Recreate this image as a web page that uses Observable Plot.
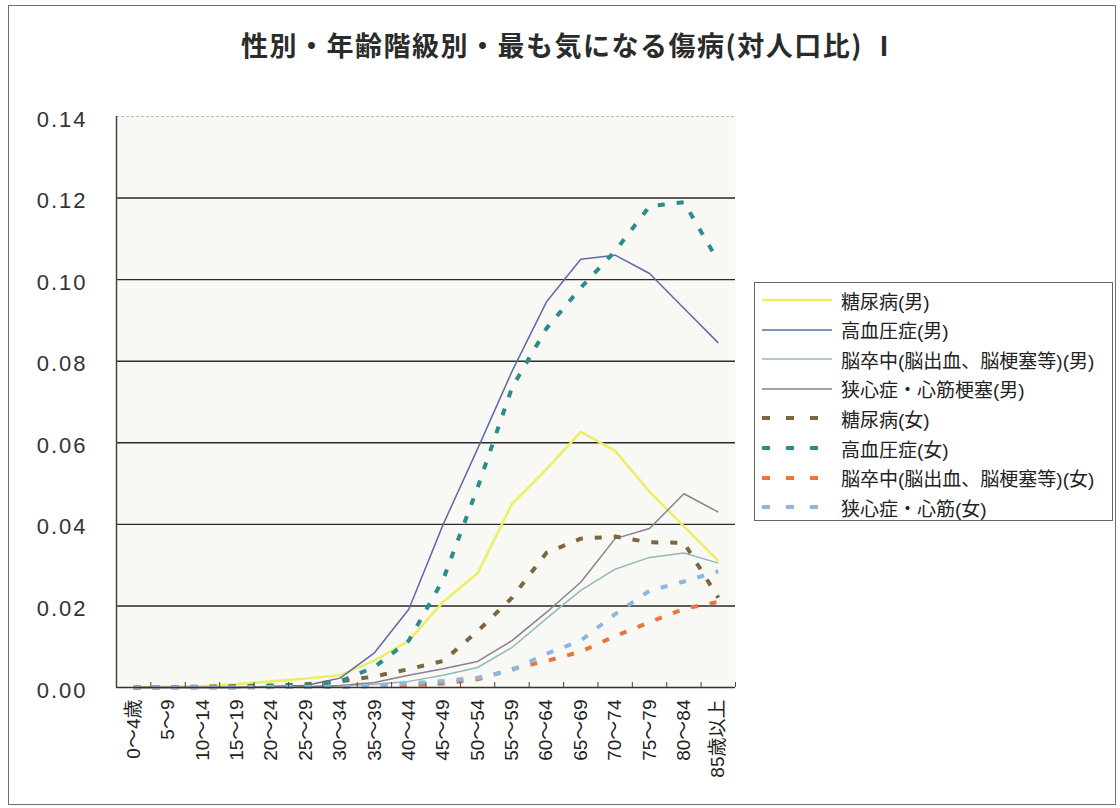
<!DOCTYPE html>
<html>
<head>
<meta charset="utf-8">
<script src="https://cdn.jsdelivr.net/npm/d3@7"></script>
<script src="https://cdn.jsdelivr.net/npm/@observablehq/plot@0.6"></script>
<style>
  html, body { margin: 0; padding: 0; background: #fff; }
  #chart { position: relative; width: 1120px; height: 808px; overflow: hidden; }
  #chart svg.plot { position: absolute; left: 0; top: 0; }
  #border { position: absolute; left: 8px; top: 5px; width: 1108px; height: 800px; border: 1px solid #6e6e6e; box-sizing: border-box; }
  #title { position: absolute; left: 0; width: 1140px; top: 26px; text-align: center;
           font-family: "Noto Sans CJK JP", sans-serif; font-weight: bold; font-size: 27px;
           letter-spacing: 1.5px; color: #2b2b2b; line-height: 38px; }
  #legend { position: absolute; left: 754px; top: 282px; width: 359px; height: 239px;
            border: 1px solid #666; box-sizing: border-box; background: #fff;
            font-family: "Liberation Sans", "Noto Sans CJK JP", sans-serif; font-size: 19px; color: #222; }
  #legend .row { position: absolute; left: 0; height: 30px; display: flex; align-items: center; white-space: nowrap; }
  #legend svg { display: block; margin-left: 7px; margin-right: 9px; }
  g[aria-label="y-axis tick label"] text { letter-spacing: 2px; }
</style>
</head>
<body>
<div id="chart">
  <div id="border"></div>
  <div id="title">性別・年齢階級別・最も気になる傷病(対人口比) Ⅰ</div>
  <div id="legend"></div>
</div>
<script>
// Age groups along the horizontal axis
const categories = ["0～4歳", "5～9", "10～14", "15～19", "20～24", "25～29", "30～34", "35～39", "40～44",
  "45～49", "50～54", "55～59", "60～64", "65～69", "70～74", "75～79", "80～84", "85歳以上"];

// Share of the population naming each condition, by age group
const diabetesMale =     [0, 0.0002, 0.0003, 0.0008, 0.0015, 0.0022, 0.003, 0.0066, 0.0115, 0.021, 0.028, 0.045, 0.0535, 0.0627, 0.058, 0.048, 0.0395, 0.031];
const hypertensionMale = [0, 0, 0, 0, 0.0003, 0.0005, 0.0023, 0.0085, 0.0192, 0.040, 0.0585, 0.0775, 0.0945, 0.105, 0.106, 0.1015, 0.093, 0.0845];
const strokeMale =       [0, 0, 0, 0, 0.0001, 0.0002, 0.0004, 0.0008, 0.0015, 0.003, 0.0049, 0.0098, 0.0169, 0.0238, 0.029, 0.0319, 0.033, 0.0305];
const heartMale =        [0, 0, 0, 0, 0.0001, 0.0002, 0.0005, 0.0012, 0.003, 0.0046, 0.0064, 0.0115, 0.0184, 0.0258, 0.0365, 0.039, 0.0475, 0.043];
const diabetesFemale =   [0, 0.0001, 0.0002, 0.0003, 0.0005, 0.0008, 0.0015, 0.0027, 0.0045, 0.0065, 0.0138, 0.022, 0.033, 0.0365, 0.037, 0.0356, 0.0355, 0.022];
const hypertensionFemale=[0, 0.0001, 0.0001, 0.0002, 0.0003, 0.0005, 0.0015, 0.005, 0.0115, 0.0265, 0.049, 0.0735, 0.088, 0.098, 0.107, 0.118, 0.119, 0.1045];
const strokeFemale =     [0, 0, 0, 0, 0.0001, 0.0001, 0.0002, 0.0003, 0.0005, 0.001, 0.002, 0.0045, 0.0065, 0.0088, 0.0126, 0.016, 0.0193, 0.021];
const heartFemale =      [0, 0, 0, 0, 0.0001, 0.0001, 0.0002, 0.0005, 0.001, 0.0016, 0.0024, 0.0042, 0.0083, 0.0115, 0.018, 0.0237, 0.026, 0.0285];

// Vertical axis ticks
const yTicks = [0, 0.02, 0.04, 0.06, 0.08, 0.10, 0.12, 0.14];

const dash = "7,12";
const series = [
  {name: "糖尿病(男)", values: diabetesMale, color: "#eeee66", width: 2.6, dash: null},
  {name: "高血圧症(男)", values: hypertensionMale, color: "#5d6ba6", width: 1.5, dash: null},
  {name: "脳卒中(脳出血、脳梗塞等)(男)", values: strokeMale, color: "#93b8b8", width: 1.5, dash: null},
  {name: "狭心症・心筋梗塞(男)", values: heartMale, color: "#8c7f90", width: 1.5, dash: null},
  {name: "糖尿病(女)", values: diabetesFemale, color: "#7b6640", width: 4, dash},
  {name: "高血圧症(女)", values: hypertensionFemale, color: "#2a8c8c", width: 4, dash},
  {name: "脳卒中(脳出血、脳梗塞等)(女)", values: strokeFemale, color: "#e8773c", width: 4, dash},
  {name: "狭心症・心筋(女)", values: heartFemale, color: "#8db7e2", width: 4, dash}
];

const idx = categories.map((_, i) => i);
const bounds = d3.range(categories.length + 1).map(i => i - 0.5);

const lineMarks = series.map(s =>
  Plot.line(s.values.map((v, i) => ({i, v})), {
    x: "i", y: "v", stroke: s.color, strokeWidth: s.width,
    strokeDasharray: s.dash, strokeLinejoin: "round", strokeLinecap: "butt"
  })
);

const chart = Plot.plot({
  width: 1120,
  height: 808,
  marginLeft: 116,
  marginRight: 385,
  marginTop: 116,
  marginBottom: 121,
  style: {fontFamily: "'Liberation Sans', 'Noto Sans CJK JP', sans-serif", background: "transparent", color: "#333"},
  x: {type: "linear", domain: [-0.5, categories.length - 0.5], axis: null, label: null},
  y: {domain: [0, 0.14], axis: null, label: null},
  marks: [
    Plot.frame({fill: "#f8f8f4", stroke: null}),
    Plot.ruleY([0.14], {stroke: "#bdbdb8", strokeDasharray: "3,2"}),
    Plot.ruleY(yTicks.filter(v => v > 0 && v < 0.14), {stroke: "#2a2a2a", strokeWidth: 1.4}),
    ...lineMarks,
    Plot.ruleY([0], {stroke: "#333", strokeWidth: 1.5}),
    Plot.ruleX([-0.5], {stroke: "#444", strokeWidth: 1.5}),
    Plot.ruleX(bounds, {y1: 0, y2: 0, insetTop: -5, stroke: "#444"}),
    Plot.axisY(yTicks, {tickSize: 0, tickPadding: 29, tickFormat: d3.format(".2f"), fontSize: 22, dy: 3, fill: "#333", label: null}),
    Plot.axisX(idx, {tickSize: 0, tickPadding: 12, tickRotate: -90, tickFormat: i => categories[i], fontSize: 19, fill: "#222", label: null})
  ]
});
chart.classList.add("plot");
document.getElementById("chart").insertBefore(chart, document.getElementById("title"));

// Legend rows: line sample followed by the series name
const legend = document.getElementById("legend");
series.forEach((s, k) => {
  const row = document.createElement("div");
  row.className = "row";
  row.style.top = (2 + k * 29.6) + "px";
  const ns = "http://www.w3.org/2000/svg";
  const svg = document.createElementNS(ns, "svg");
  svg.setAttribute("width", 70);
  svg.setAttribute("height", 10);
  const ln = document.createElementNS(ns, "line");
  ln.setAttribute("x1", 0); ln.setAttribute("x2", 70);
  ln.setAttribute("y1", 5); ln.setAttribute("y2", 5);
  ln.setAttribute("stroke", s.color);
  ln.setAttribute("stroke-width", s.dash ? 4 : Math.max(1.5, s.width));
  if (s.dash) ln.setAttribute("stroke-dasharray", "8,16");
  svg.appendChild(ln);
  const label = document.createElement("span");
  label.textContent = s.name;
  row.appendChild(svg);
  row.appendChild(label);
  legend.appendChild(row);
});
</script>
</body>
</html>
